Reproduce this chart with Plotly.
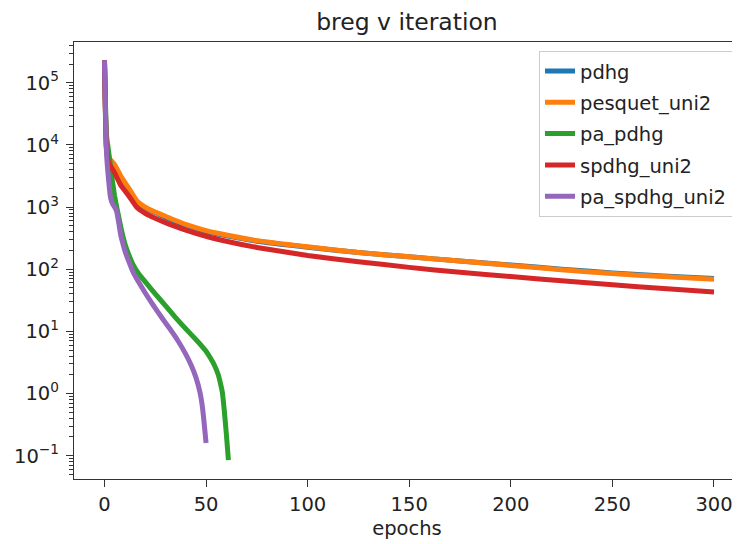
import plotly.graph_objects as go

# ---------------- data ----------------
long_epochs = [0, 1, 2, 5, 8, 12, 16, 20, 25, 30, 40, 50, 60, 75, 100, 125, 150, 175, 200, 225, 250, 275, 300]
pdhg = [229000, 8700, 6100, 4600, 3050, 1930, 1200, 960, 815, 680, 505, 402, 345, 282, 226, 185, 158, 136, 117, 100, 87, 78, 71]
pesquet_uni2 = [229000, 8900, 6300, 4800, 3160, 2000, 1250, 1000, 830, 710, 525, 417, 355, 288, 229, 186, 158, 135, 115, 98, 85, 76, 69]
spdhg_uni2 = [229000, 8900, 5250, 3550, 2240, 1510, 980, 795, 660, 560, 427, 339, 282, 224, 166, 132, 107, 89, 76, 65, 56, 49, 43]

pa_pdhg_epochs = [0, 1, 2, 3, 4, 5, 6, 7, 8, 10, 12, 14, 17, 20, 25, 30, 35, 40, 45, 48, 50, 52, 54, 56, 57, 58, 59, 60, 61]
pa_pdhg = [229000, 14000, 8000, 4500, 2500, 1500, 1000, 700, 480, 260, 170, 120, 83, 63, 40, 26, 16.6, 11, 7.4, 5.75, 4.8, 3.8, 2.9, 2.0, 1.5, 1.05, 0.52, 0.22, 0.085]

pa_spdhg_epochs = [0, 1, 2, 3, 4, 5, 6, 7, 8, 9, 10, 12, 14, 16, 20, 24, 28, 32, 36, 40, 43, 45, 47, 48, 49, 50]
pa_spdhg_uni2 = [229000, 7400, 2800, 1410, 1120, 1000, 850, 560, 355, 263, 200, 132, 91, 69, 41.7, 26.3, 17.0, 11.2, 7.2, 4.3, 2.7, 1.82, 1.05, 0.68, 0.35, 0.16]

y_tick_vals = [0.1, 1, 10, 100, 1000, 10000, 100000]
y_tick_text = ["10<sup>\u22121</sup>", "10<sup>0</sup>", "10<sup>1</sup>", "10<sup>2</sup>",
               "10<sup>3</sup>", "10<sup>4</sup>", "10<sup>5</sup>"]
x_tick_vals = [0, 50, 100, 150, 200, 250, 300]

series = [
    ("pdhg", long_epochs, pdhg, "#1f77b4"),
    ("pesquet_uni2", long_epochs, pesquet_uni2, "#ff7f0e"),
    ("pa_pdhg", pa_pdhg_epochs, pa_pdhg, "#2ca02c"),
    ("spdhg_uni2", long_epochs, spdhg_uni2, "#d62728"),
    ("pa_spdhg_uni2", pa_spdhg_epochs, pa_spdhg_uni2, "#9467bd"),
]

fig = go.Figure()
for name, xs, ys, col in series:
    fig.add_trace(go.Scatter(x=xs, y=ys, mode="lines", name=name, legendgroup=name,
                             line=dict(color=col, width=5, shape="spline", smoothing=0.4)))

FONT = "DejaVu Sans"
AX = "#333333"
minor_vals = [m * 10.0 ** e for e in range(-2, 6) for m in range(2, 10)]

# the page body adds an 8px offset, so the figure is drawn 8px smaller
W, H = 732, 536
fig.update_layout(
    width=W, height=H,
    margin=dict(l=65.5, r=0, t=34, b=65),
    paper_bgcolor="white", plot_bgcolor="white",
    font=dict(family=FONT, size=19.5, color="#222222"),
    title=dict(text="breg v iteration", x=0.5, xref="paper", xanchor="center",
               y=1 - 14 / H, yref="container", yanchor="middle",
               font=dict(family=FONT, size=23.5, color="#222222")),
    showlegend=True,
    legend=dict(x=0.9895, y=0.98, xanchor="right", yanchor="top",
                bgcolor="rgba(255,255,255,0.8)", bordercolor="#cccccc", borderwidth=1,
                font=dict(family=FONT, size=19.5, color="#222222"),
                tracegroupgap=3),
)
fig.update_xaxes(range=[-15.0, 312.8], tickmode="array", tickvals=x_tick_vals,
                 automargin=False,
                 ticks="outside", ticklen=7, tickwidth=1.3, tickcolor=AX,
                 showline=True, linecolor=AX, linewidth=1.3, mirror=True,
                 showgrid=False, zeroline=False,
                 title=dict(text="epochs", standoff=6, font=dict(size=19.5)))
fig.update_yaxes(type="log", range=[-1.375, 5.655], tickmode="array",
                 tickvals=y_tick_vals, ticktext=y_tick_text,
                 automargin=False,
                 ticks="outside", ticklen=7, tickwidth=1.3, tickcolor=AX,
                 ticklabelstandoff=3,
                 showline=True, linecolor=AX, linewidth=1.3, mirror=False,
                 showgrid=False, zeroline=False,
                 minor=dict(tickmode="array", tickvals=minor_vals, ticks="outside",
                            ticklen=4, tickwidth=1, tickcolor=AX, showgrid=False))

fig.write_html("out.html")
